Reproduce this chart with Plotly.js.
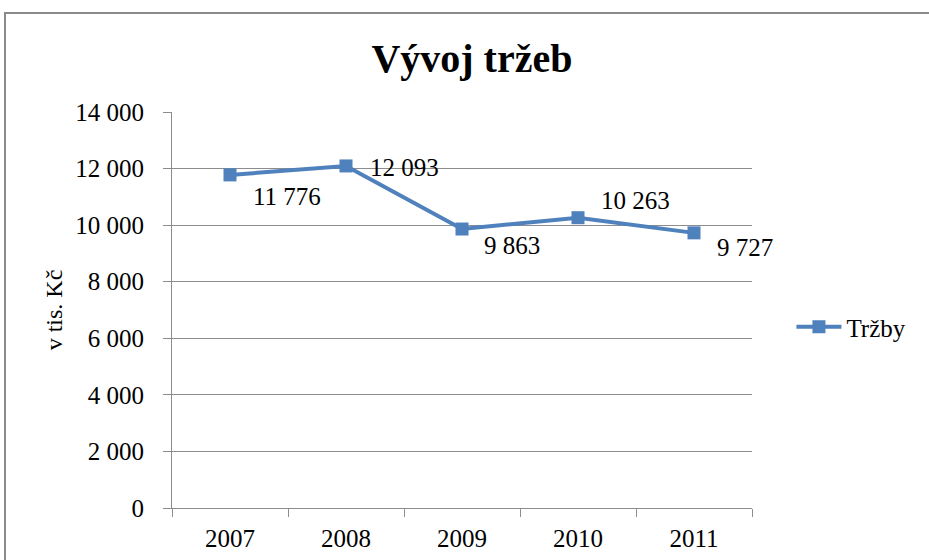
<!DOCTYPE html>
<html>
<head>
<meta charset="utf-8">
<script src="https://cdn.plot.ly/plotly-3.0.1.min.js"></script>
<style>
  html, body { margin: 0; padding: 0; background: #fff; overflow: hidden; }
  #wrap { position: relative; width: 929px; height: 560px; }
  #chart { position: absolute; left: 0; top: 0; width: 929px; height: 560px; }
  #frame { position: absolute; left: 4px; top: 12px; width: 1000px; height: 1000px;
           border: 2px solid #8a8a8a; pointer-events: none; box-sizing: border-box; }
</style>
</head>
<body>
<div id="wrap">
  <div id="chart"></div>
  <div id="frame"></div>
</div>
<script>
// ---- data ----
const years = ["2007", "2008", "2009", "2010", "2011"];
const trzby = [11776, 12093, 9863, 10263, 9727];
const seriesName = "Tržby";
const yTickVals = [0, 2000, 4000, 6000, 8000, 10000, 12000, 14000];
const yTickText = ["0", "2 000", "4 000", "6 000", "8 000", "10 000", "12 000", "14 000"];
const chartTitle = "Vývoj tržeb";
const yTitle = "v tis. Kč";

// ---- styling ----
const FONT = "'Liberation Serif', 'Times New Roman', serif";
const BLUE = "#4F81BD";
const GRID = "#8c8c8c";
// label offsets (px) relative to each point
const labelShiftX = [57, 58, 50, 57, 51];
const labelShiftY = [-22, -2, -16, 17, -15];

function fmt(v) {
  return String(v).replace(/\B(?=(\d{3})+(?!\d))/g, " ");
}

const trace = {
  type: "scatter",
  mode: "lines+markers",
  x: years,
  y: trzby,
  name: seriesName,
  line: { color: BLUE, width: 4 },
  marker: { symbol: "square", size: 13, color: BLUE },
  showlegend: true
};

const annotations = years.map((yr, i) => ({
  x: i, y: trzby[i], xref: "x", yref: "y",
  text: fmt(trzby[i]), showarrow: false,
  xanchor: "center", yanchor: "middle",
  xshift: labelShiftX[i], yshift: labelShiftY[i],
  font: { family: FONT, size: 25, color: "#000" }
}));

const layout = {
  width: 929, height: 560,
  margin: { l: 172, r: 177, t: 112, b: 52 },
  paper_bgcolor: "#fff", plot_bgcolor: "#fff",
  font: { family: FONT, size: 25, color: "#000" },
  title: {
    text: "<b>" + chartTitle + "</b>",
    font: { family: FONT, size: 40, color: "#000" },
    xref: "container", yref: "container",
    x: 0.508, xanchor: "center", y: 0.896, yanchor: "middle"
  },
  xaxis: {
    type: "category",
    range: [-0.5, 4.5],
    showline: true, linecolor: GRID, linewidth: 1,
    showgrid: false, zeroline: false,
    ticks: "outside", tickson: "boundaries", ticklen: 8, tickcolor: GRID, tickwidth: 1,
    tickfont: { family: FONT, size: 25, color: "#000" },
    ticklabelstandoff: 8,
    automargin: false, fixedrange: true
  },
  yaxis: {
    range: [0, 14000],
    tickvals: yTickVals, ticktext: yTickText,
    showline: true, linecolor: GRID, linewidth: 1,
    showgrid: true, gridcolor: GRID, gridwidth: 1,
    zeroline: false,
    ticks: "outside", ticklen: 8, tickcolor: GRID, tickwidth: 1,
    tickfont: { family: FONT, size: 25, color: "#000" },
    ticklabelstandoff: 14,
    title: { text: yTitle, font: { family: FONT, size: 24, color: "#000" }, standoff: 5 },
    automargin: false, fixedrange: true
  },
  legend: {
    x: 1.068, xanchor: "left", y: 0.457, yanchor: "middle",
    itemwidth: 45,
    font: { family: FONT, size: 25, color: "#000" },
    bgcolor: "rgba(0,0,0,0)", borderwidth: 0
  },
  annotations: annotations,
  showlegend: true
};

Plotly.newPlot("chart", [trace], layout, { displayModeBar: false, staticPlot: true });
</script>
</body>
</html>
